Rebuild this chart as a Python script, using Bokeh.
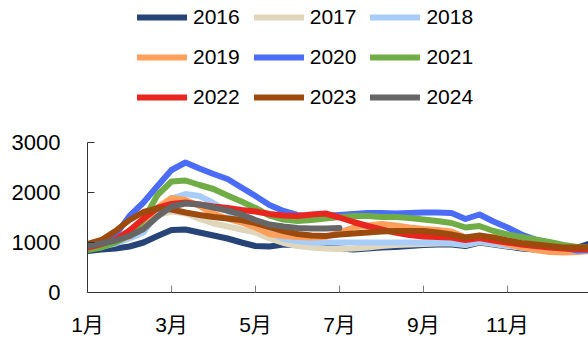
import numpy as np
from bokeh.plotting import figure
from bokeh.layouts import column
from bokeh.models import Range1d, Legend, LegendItem, FixedTicker
from bokeh.embed import file_html
from bokeh.resources import INLINE

# x positions: months since 1 Jan, every 1/3 month
months = [i / 3 for i in range(37)]
nan = float("nan")

y2016 = [830, 860, 880, 920, 1000, 1130, 1250, 1260, 1200, 1140, 1080, 1000, 930, 920, 960, 950, 920, 900, 880,
         860, 880, 900, 910, 930, 950, 960, 960, 930, 1000, 960, 920, 880, 860, 850, 850, 900, 990]
y2017 = [880, 930, 1000, 1100, 1300, 1550, 1620, 1580, 1470, 1380, 1320, 1260, 1200, 1080, 990, 930, 900, 880, 870,
         880, 900, 930, 950, 960, 970, 980, 980, 950, 1010, 970, 930, 900, 880, 860, 850, 850, 860]
y2018 = [880, 920, 980, 1080, 1200, 1600, 1880, 1970, 1930, 1790, 1620, 1480, 1350, 1200, 1070, 1030, 1000, 1000, 1000,
         1000, 1000, 1000, 1000, 1000, 1000, 1000, 990, 960, 1020, 980, 940, 900, 880, 860, 850, 840, 850]
y2019 = [900, 950, 1020, 1120, 1380, 1700, 1890, 1850, 1730, 1580, 1480, 1400, 1300, 1170, 1130, 1110, 1100, 1110, 1200,
         1300, 1340, 1370, 1340, 1300, 1270, 1250, 1220, 1100, 1100, 1040, 970, 900, 850, 810, 800, 810, 830]
y2020 = [870, 950, 1150, 1530, 1800, 2130, 2450, 2600, 2480, 2370, 2270, 2100, 1930, 1750, 1630, 1550, 1520, 1530, 1550,
         1570, 1590, 1590, 1580, 1590, 1600, 1600, 1590, 1470, 1560, 1420, 1300, 1160, 1060, 970, 900, 840, 850]
y2021 = [850, 900, 1000, 1150, 1450, 1950, 2220, 2240, 2150, 2070, 1940, 1820, 1690, 1540, 1460, 1430, 1450, 1480, 1510,
         1530, 1530, 1510, 1510, 1490, 1460, 1430, 1390, 1300, 1330, 1230, 1160, 1110, 1060, 1010, 950, 910, 900]
y2022 = [900, 970, 1060, 1240, 1480, 1690, 1770, 1800, 1760, 1720, 1690, 1650, 1620, 1570, 1540, 1530, 1560, 1580, 1500,
         1410, 1330, 1260, 1200, 1150, 1120, 1110, 1100, 1050, 1090, 1040, 1000, 960, 930, 900, 880, 870, 870]
y2023 = [970, 1050, 1230, 1450, 1610, 1680, 1660, 1600, 1550, 1510, 1480, 1450, 1390, 1310, 1230, 1170, 1140, 1130, 1160,
         1180, 1200, 1220, 1230, 1230, 1230, 1200, 1160, 1100, 1140, 1100, 1040, 990, 960, 930, 900, 900, 900]
y2024 = [930, 980, 1040, 1130, 1270, 1520, 1720, 1780, 1760, 1700, 1640, 1560, 1450, 1360, 1320, 1290, 1280, 1280, 1290] \
        + [nan] * 18

years = ["2016", "2017", "2018", "2019", "2020", "2021", "2022", "2023", "2024"]
series = [y2016, y2017, y2018, y2019, y2020, y2021, y2022, y2023, y2024]
colors = ["#264478", "#e0d6bc", "#a9cdf9", "#fda05c", "#4a6cf7", "#70ad47", "#e8251f", "#9c4a0e", "#666666"]

tick_pos = [0, 2, 4, 6, 8, 10]
tick_labels = ["1月", "3月", "5月", "7月", "9月", "11月"]
y_ticks = [0, 1000, 2000, 3000]

FONT = "'Liberation Sans', 'Noto Sans CJK SC', sans-serif"
LW = 6

# ---- main chart ----
p = figure(width=588, height=210, output_backend="svg", toolbar_location=None,
           x_range=Range1d(0, 11.93), y_range=Range1d(0, 3000),
           min_border_left=87, min_border_right=0, min_border_top=12, min_border_bottom=48)
p.outline_line_color = None
p.grid.grid_line_color = None

for yr, ys, c in zip(years, series, colors):
    p.line(months, ys, line_color=c, line_width=LW, line_join="round", line_cap="round")

xa = p.xaxis[0]
xa.ticker = FixedTicker(ticks=tick_pos)
xa.major_label_overrides = {t: l for t, l in zip(tick_pos, tick_labels)}
xa.minor_tick_line_color = None
xa.major_tick_in = 7
xa.major_tick_out = 0
xa.major_label_standoff = 20
xa.major_label_text_font = FONT
xa.major_label_text_font_size = "21px"
xa.major_label_text_color = "black"
xa.axis_line_color = "#333333"
xa.major_tick_line_color = "#7f7f7f"

ya = p.yaxis[0]
ya.ticker = FixedTicker(ticks=y_ticks)
ya.minor_tick_line_color = None
ya.major_tick_in = 7
ya.major_tick_out = 0
ya.major_label_standoff = 27
ya.major_label_text_font = FONT
ya.major_label_text_font_size = "22px"
ya.major_label_text_color = "black"
ya.axis_line_color = "#333333"
ya.major_tick_line_color = "#333333"

# ---- legend strip (same series, styled identically; lines fall outside its view) ----
lg = figure(width=588, height=130, output_backend="svg", toolbar_location=None,
            x_range=Range1d(0, 11.93), y_range=Range1d(-3000, -2000),
            min_border_left=0, min_border_right=0, min_border_top=0, min_border_bottom=0)
lg.axis.visible = False
lg.grid.grid_line_color = None
lg.outline_line_color = None
leg_renderers = []
for yr, ys, c in zip(years, series, colors):
    leg_renderers.append(lg.line(months, ys, line_color=c, line_width=LW, line_join="round", line_cap="round"))

legend = Legend(items=[LegendItem(label=yr, renderers=[r]) for yr, r in zip(years, leg_renderers)],
                orientation="horizontal", ncols=3, location=(50, 20),
                glyph_width=50, glyph_height=26, label_standoff=6, spacing=14,
                padding=0, margin=0, border_line_color=None, background_fill_alpha=0,
                label_text_font=FONT, label_text_font_size="21px", label_text_color="black")
lg.add_layout(legend, "center")

layout = column(lg, p, spacing=0)
open("out.html", "w").write(file_html(layout, INLINE))
